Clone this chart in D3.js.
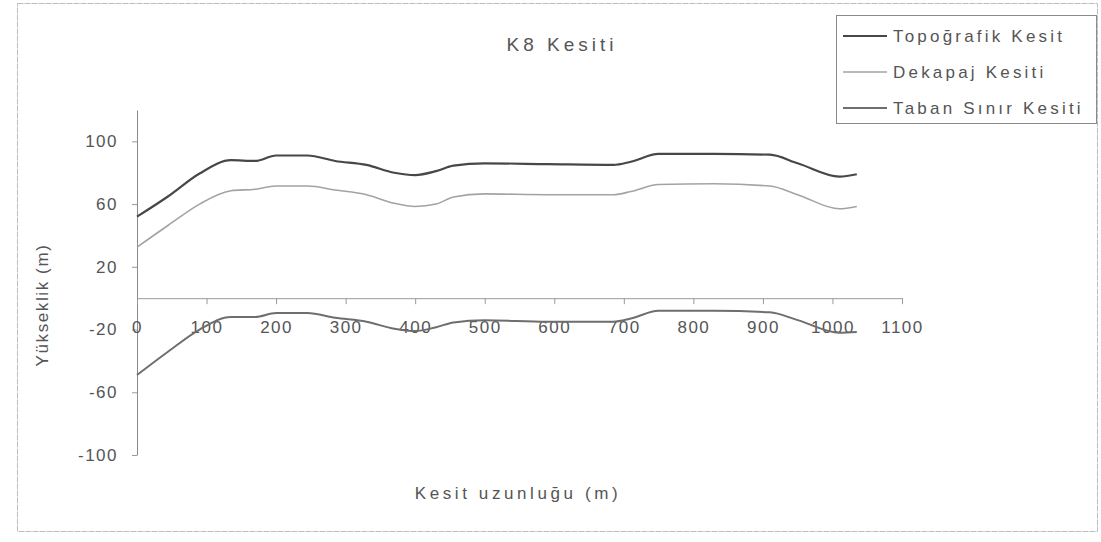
<!DOCTYPE html>
<html>
<head>
<meta charset="utf-8">
<script src="https://cdn.jsdelivr.net/npm/d3@7"></script>
<style>
  html, body { margin: 0; padding: 0; background: #fff; }
  svg { display: block; }
  text { font-family: "Liberation Sans", Arial, sans-serif; fill: #555; }
</style>
</head>
<body>
<svg id="chart" width="1101" height="542"></svg>
<script>
const distance   = [0, 45, 90, 135, 170, 200, 245, 285, 330, 370, 400, 430, 455, 500, 590, 685, 710, 750, 830, 910, 950, 1010, 1035];
const topografik = [52, 65, 79.5, 88, 87.5, 91, 91, 87.5, 85, 80, 78.5, 81, 84.5, 86, 85.5, 85, 87, 92, 92, 91.5, 86, 77.5, 79];
const dekapaj    = [32.5, 46.5, 60, 68.5, 69.5, 71.5, 71.5, 69, 66, 60.5, 58.5, 60, 64.5, 66.5, 66, 66, 68, 72.5, 73, 71.5, 66, 57, 58.5];
const taban      = [-49, -34, -20, -12, -12, -9.5, -9.5, -12.5, -15, -19.5, -21, -18.5, -15.5, -14, -15, -15, -13, -8, -8, -9, -14, -22, -21.5];
const xTicks = [0, 100, 200, 300, 400, 500, 600, 700, 800, 900, 1000, 1100];
const yTicks = [-100, -60, -20, 20, 60, 100];
const seriesNames = ["Topoğrafik Kesit", "Dekapaj Kesiti", "Taban Sınır Kesiti"];
const seriesColors = ["#474747", "#a3a3a3", "#6e6e6e"];
const seriesWidths = [2.2, 1.6, 2];

const svg = d3.select("#chart");
const fmt = d => String(d); // plain hyphen-minus as in the reference

// outer chart border
svg.append("rect").attr("x", 17.5).attr("y", 3.5).attr("width", 1080).attr("height", 528)
  .attr("fill", "none").attr("stroke", "#bdbdbd").attr("stroke-width", 1).attr("stroke-dasharray", "6,1");

const x = d3.scaleLinear().domain([0, 1100]).range([137, 902]);
const y = d3.scaleLinear().domain([-100, 120]).range([455, 110]);

// Y axis
const yAxis = svg.append("g").attr("transform", `translate(${x(0)},0)`)
  .call(d3.axisLeft(y).tickValues(yTicks).tickSize(5).tickSizeOuter(0).tickPadding(14).tickFormat(fmt));
yAxis.select(".domain").attr("stroke", "#8a8a8a");
yAxis.selectAll(".tick line").attr("stroke", "#9a9a9a");
yAxis.selectAll(".tick text").attr("font-size", 17).attr("letter-spacing", "1.5px").attr("fill", "#555");

// X axis at y = 0
const xAxis = svg.append("g").attr("transform", `translate(0,${y(0)})`)
  .call(d3.axisBottom(x).tickValues(xTicks).tickSize(6).tickSizeOuter(0).tickPadding(17).tickFormat(fmt));
xAxis.select(".domain").attr("stroke", "#9a9a9a");
xAxis.selectAll(".tick line").attr("stroke", "#9a9a9a");
xAxis.selectAll(".tick text").attr("font-size", 17).attr("letter-spacing", "1.5px").attr("fill", "#555");

// series lines
const allSeries = [topografik, dekapaj, taban];
const line = d3.line().x(d => x(d[0])).y(d => y(d[1])).curve(d3.curveMonotoneX);
allSeries.forEach((vals, i) => {
  svg.append("path")
    .datum(distance.map((d, j) => [d, vals[j]]))
    .attr("fill", "none")
    .attr("stroke", seriesColors[i])
    .attr("stroke-width", seriesWidths[i])
    .attr("stroke-linejoin", "round")
    .attr("d", line);
});

// Title
svg.append("text").attr("x", 562).attr("y", 51).attr("text-anchor", "middle")
  .attr("font-size", 19).attr("letter-spacing", "4px").text("K8 Kesiti");

// Axis titles
svg.append("text").attr("x", 518).attr("y", 499).attr("text-anchor", "middle")
  .attr("font-size", 17).attr("letter-spacing", "3.6px").text("Kesit uzunluğu (m)");
svg.append("text").attr("transform", "translate(48,305) rotate(-90)").attr("text-anchor", "middle")
  .attr("font-size", 17).attr("letter-spacing", "1.6px").text("Yükseklik (m)");

// Legend
const lg = svg.append("g");
lg.append("rect").attr("x", 836.5).attr("y", 15.5).attr("width", 260).attr("height", 108)
  .attr("fill", "#fff").attr("stroke", "#8a8a8a").attr("stroke-width", 1);
seriesNames.forEach((name, i) => {
  const cy = 36 + i * 36;
  lg.append("line").attr("x1", 843).attr("x2", 887).attr("y1", cy).attr("y2", cy)
    .attr("stroke", seriesColors[i]).attr("stroke-width", seriesWidths[i]);
  lg.append("text").attr("x", 893).attr("y", cy + 6).attr("font-size", 17)
    .attr("letter-spacing", "3.2px").text(name);
});
</script>
</body>
</html>
